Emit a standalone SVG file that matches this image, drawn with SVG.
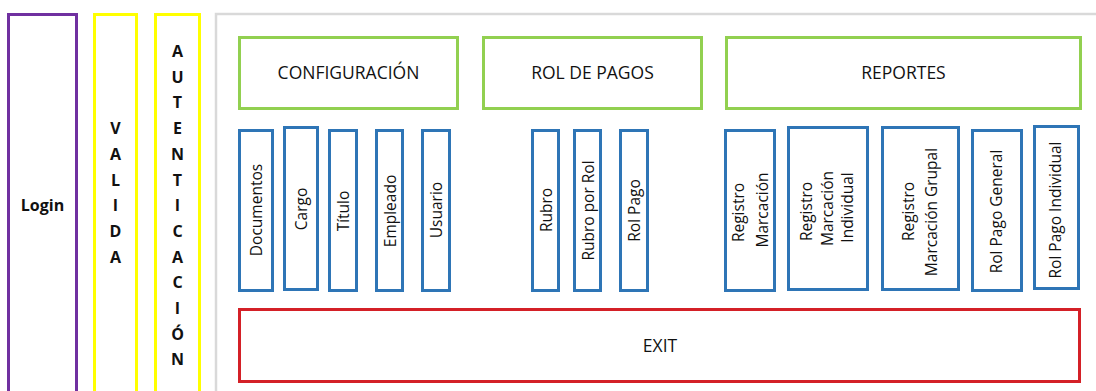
<svg xmlns="http://www.w3.org/2000/svg" width="1096" height="391" viewBox="0 0 1096 391">
<style>
.t{font-family:"Open Sans","Liberation Sans",sans-serif;fill:#111;}
.h{font-size:17.5px;text-anchor:middle;}
.v{font-size:15.5px;text-anchor:middle;}
.b{font-size:16px;font-weight:bold;text-anchor:middle;}
.blue{fill:#fff;stroke:#2E75B6;stroke-width:3;}
.green{fill:#fff;stroke:#92D050;stroke-width:3;}
</style>
<rect width="1096" height="391" fill="#fff"/>
<g id="login">
<rect x="8.5" y="14.5" width="68" height="400" fill="#fff" stroke="#7030A0" stroke-width="3"/>
<text class="t b" x="42.5" y="211">Login</text>
</g>
<g id="valida">
<rect x="94.5" y="14.5" width="42" height="400" fill="#fff" stroke="#FFFF00" stroke-width="3"/>
<text class="t b"><tspan x="115.5" y="134.1">V</tspan><tspan x="115.5" y="159.8">A</tspan><tspan x="115.5" y="185.5">L</tspan><tspan x="115.5" y="211.2">I</tspan><tspan x="115.5" y="236.9">D</tspan><tspan x="115.5" y="262.6">A</tspan></text>
</g>
<g id="autenticacion">
<rect x="155.5" y="14.5" width="44" height="400" fill="#fff" stroke="#FFFF00" stroke-width="3"/>
<text class="t b"><tspan x="177.5" y="57">A</tspan><tspan x="177.5" y="82.7">U</tspan><tspan x="177.5" y="108.4">T</tspan><tspan x="177.5" y="134.1">E</tspan><tspan x="177.5" y="159.8">N</tspan><tspan x="177.5" y="185.5">T</tspan><tspan x="177.5" y="211.2">I</tspan><tspan x="177.5" y="236.9">C</tspan><tspan x="177.5" y="262.6">A</tspan><tspan x="177.5" y="288.3">C</tspan><tspan x="177.5" y="314">I</tspan><tspan x="177.5" y="339.7">Ó</tspan><tspan x="177.5" y="365.4">N</tspan></text>
</g>
<g id="container">
<rect x="216" y="14" width="900" height="400" fill="#fff" stroke="#D9D9D9" stroke-width="2.5"/>
</g>
<g id="configuracion">
<rect class="green" x="239.5" y="37.5" width="218" height="71"/>
<text class="t h" x="348.5" y="79">CONFIGURACIÓN</text>
</g>
<g id="rol-de-pagos">
<rect class="green" x="483.5" y="37.5" width="218" height="71"/>
<text class="t h" x="592.5" y="79">ROL DE PAGOS</text>
</g>
<g id="reportes">
<rect class="green" x="726.5" y="37.5" width="354" height="71"/>
<text class="t h" x="903.5" y="79">REPORTES</text>
</g>
<g id="documentos">
<rect class="blue" x="239.5" y="130.5" width="33" height="160"/>
<text class="t v" transform="translate(262,210) rotate(-90)">Documentos</text>
</g>
<g id="cargo">
<rect class="blue" x="284.5" y="127.5" width="33" height="162"/>
<text class="t v" transform="translate(306.5,209) rotate(-90)">Cargo</text>
</g>
<g id="titulo">
<rect class="blue" x="329.5" y="130.5" width="27" height="160"/>
<text class="t v" transform="translate(349,211) rotate(-90)">Título</text>
</g>
<g id="empleado">
<rect class="blue" x="376.5" y="130.5" width="26" height="160"/>
<text class="t v" transform="translate(396,211) rotate(-90)">Empleado</text>
</g>
<g id="usuario">
<rect class="blue" x="422.5" y="130.5" width="27" height="160"/>
<text class="t v" transform="translate(441.5,210) rotate(-90)">Usuario</text>
</g>
<g id="rubro">
<rect class="blue" x="532.5" y="130.5" width="26" height="160"/>
<text class="t v" transform="translate(551.5,210) rotate(-90)">Rubro</text>
</g>
<g id="rubro-por-rol">
<rect class="blue" x="574.5" y="130.5" width="26" height="160"/>
<text class="t v" transform="translate(594,210.5) rotate(-90)">Rubro por Rol</text>
</g>
<g id="rol-pago">
<rect class="blue" x="620.5" y="130.5" width="27" height="160"/>
<text class="t v" transform="translate(640,210.5) rotate(-90)">Rol Pago</text>
</g>
<g id="registro-marcacion">
<rect class="blue" x="725.5" y="130.5" width="49" height="160"/>
<text class="t v" transform="translate(744,212.5) rotate(-90)">Registro</text>
<text class="t v" transform="translate(768,210) rotate(-90)">Marcación</text>
</g>
<g id="registro-marcacion-individual">
<rect class="blue" x="788.5" y="127.5" width="79" height="162"/>
<text class="t v" transform="translate(812,211.5) rotate(-90)">Registro</text>
<text class="t v" transform="translate(833,208.5) rotate(-90)">Marcación</text>
<text class="t v" transform="translate(852.5,207.5) rotate(-90)">Individual</text>
</g>
<g id="registro-marcacion-grupal">
<rect class="blue" x="882.5" y="127.5" width="76" height="162"/>
<text class="t v" transform="translate(914,211.5) rotate(-90)">Registro</text>
<text class="t v" transform="translate(936.5,212) rotate(-90)">Marcación Grupal</text>
</g>
<g id="rol-pago-general">
<rect class="blue" x="972.5" y="130.5" width="49" height="160"/>
<text class="t v" transform="translate(1001.5,211.5) rotate(-90)">Rol Pago General</text>
</g>
<g id="rol-pago-individual">
<rect class="blue" x="1034.5" y="126.5" width="44" height="162"/>
<text class="t v" transform="translate(1061,210) rotate(-90)">Rol Pago Individual</text>
</g>
<g id="exit">
<rect x="239.5" y="309.5" width="840" height="72" fill="#fff" stroke="#D42027" stroke-width="3"/>
<text class="t h" x="660" y="352">EXIT</text>
</g>
<g id="connectors"></g>
</svg>
